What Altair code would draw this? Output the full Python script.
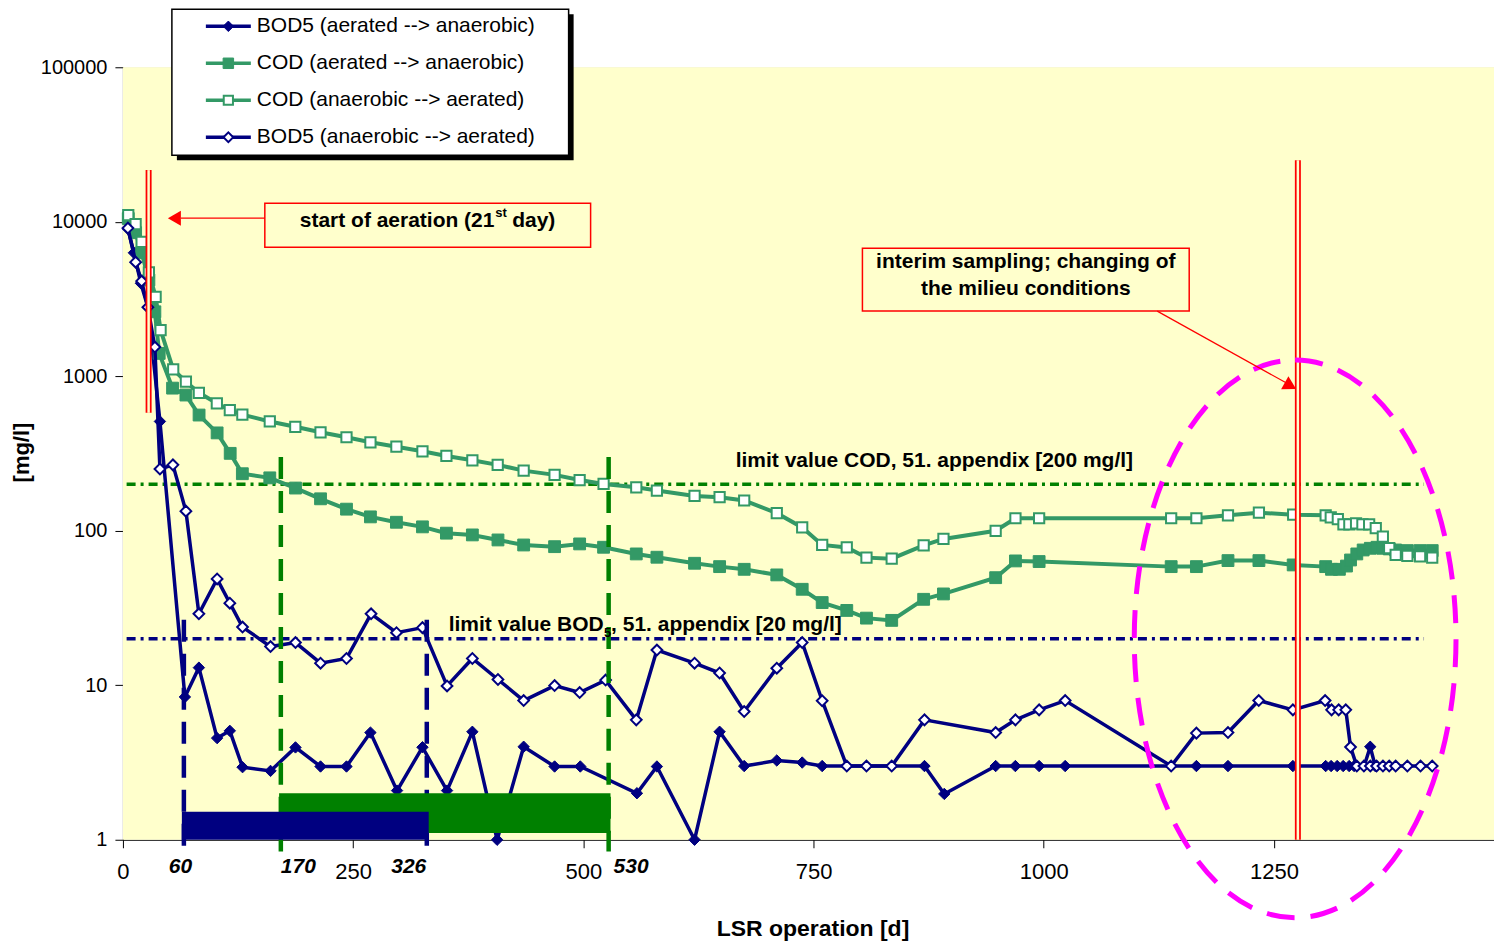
import altair as alt
import pandas as pd

# ---------------- colours / fonts ----------------
NAVY = "#000080"
SEA = "#339966"
GREEN = "#008000"
RED = "#FF0000"
MAGENTA = "#FF00FF"
BG = "#FFFFCC"
FONT = "Liberation Sans"

# ---------------- data (days of LSR operation, mg/l) ----------------
bod_aer_days = [5.4, 11.9, 19.5, 27.1, 40.2, 67.3, 82.5, 102.3, 116.1, 129.9,
                160.3, 187.4, 214.6, 242.8, 268.8, 297.7, 325.3, 352.0, 379.5, 406.4,
                435.2, 468.8, 496.7, 558.2, 579.9, 620.8, 648.0, 674.7, 710.1, 737.7,
                759.4, 870.5, 892.0, 947.8, 969.2, 995.0, 1023.3, 1165.8, 1200.1, 1270.6,
                1306.2, 1312.1, 1318.7, 1325.2, 1331.7, 1337.1, 1348.0, 1354.6, 1360.0]
bod_aer_vals = [9000, 6300, 4000, 2800, 510, 8.4, 13.0, 4.55, 5.07, 2.95,
                2.79, 3.96, 2.98, 2.98, 4.94, 2.08, 3.97, 2.08, 5.0, 1.0,
                4.0, 2.98, 2.98, 2.0, 2.98, 1.0, 5.0, 3.0, 3.26, 3.16,
                3.0, 3.0, 1.98, 3.0, 3.0, 3.0, 3.0, 3.0, 3.0, 3.0,
                3, 3, 3, 3, 3, 3, 3, 4.0, 3.0]

cod_aer_days = [5.8, 13.8, 20.3, 28.2, 34.7, 39.4, 53.9, 68.4, 82.7, 102.3,
                116.5, 129.7, 159.5, 187.4, 214.6, 242.8, 268.8, 297.0, 325.3, 351.3,
                379.5, 407.3, 435.2, 468.8, 496.0, 522.0, 557.5, 579.9, 620.8, 648.0,
                674.7, 710.1, 737.7, 759.4, 786.1, 807.5, 834.9, 869.6, 891.1, 947.8,
                969.3, 995.0, 1138.4, 1165.8, 1200.1, 1233.7, 1270.9, 1306.2, 1312.5, 1321.1,
                1328.8, 1333.2, 1340.0, 1346.9, 1354.7, 1362.0, 1368.3, 1375.2, 1382.2, 1394.9,
                1408.7, 1421.9]
cod_aer_vals = [10500, 8500, 6300, 4200, 2614, 1406, 838, 756, 561, 430,
                317, 234, 220, 189, 161, 138, 123, 113.5, 106, 96.5,
                94, 87.2, 80.9, 78.9, 82.2, 78.2, 70.8, 67.4, 61.6, 58.6,
                56.3, 51.8, 41.8, 34.3, 30.5, 27.2, 26.3, 36, 39, 49.7,
                63.8, 63.2, 58.6, 58.6, 64.1, 64.1, 60.1, 58.6, 56.3, 56.3,
                59.1, 64.7, 70.8, 75.1, 77, 78.2, 77, 76.3, 75.1, 74.4,
                74.4, 74.4]

cod_ana_days = [5.8, 13.8, 20.3, 28.2, 35.5, 40.9, 54.6, 68.4, 82.5, 102.0,
                116.1, 129.7, 159.5, 187.2, 214.6, 242.8, 268.8, 297.0, 325.3, 351.3,
                379.5, 407.0, 435.2, 468.8, 496.0, 522.0, 557.5, 579.9, 620.8, 648.0,
                674.7, 710.1, 737.7, 759.4, 786.1, 807.5, 834.9, 869.6, 891.1, 947.8,
                969.3, 995.0, 1138.4, 1165.8, 1200.1, 1233.7, 1270.9, 1306.2, 1311.7, 1319.4,
                1325.5, 1331.9, 1339.2, 1346.1, 1353.4, 1360.6, 1368.3, 1375.2, 1382.2, 1394.9,
                1408.7, 1421.9]
cod_ana_vals = [11040, 9650, 7410, 4700, 3270, 1990, 1108, 922, 782, 668,
                604, 565, 510, 471, 434, 403, 374, 350, 327, 305,
                286, 267, 245, 230, 213, 201, 191, 182, 168, 165,
                157, 130, 105, 81, 78, 67, 66, 80.5, 88.5, 100,
                120.5, 120.5, 120.5, 120.5, 126, 131, 127, 126, 122, 119,
                110, 110, 111.6, 110, 110, 104, 91.6, 77.1, 69.7, 68.7,
                68.2, 67]

bod_ana_days = [5.4, 13.8, 20.3, 27.1, 34.7, 40.2, 54.3, 68.4, 82.5, 102.3,
                116.1, 129.9, 160.3, 187.4, 214.6, 242.8, 269.5, 297.1, 325.3, 352.0,
                379.5, 407.3, 435.2, 468.8, 496.0, 524.2, 557.5, 579.9, 620.8, 648.0,
                674.7, 710.1, 737.7, 759.4, 786.1, 807.5, 834.9, 870.5, 947.8, 969.3,
                995.0, 1023.3, 1138.4, 1165.8, 1200.1, 1233.5, 1270.6, 1305.6, 1312.6, 1320.3,
                1328.0, 1333.2, 1340.0, 1347.7, 1354.7, 1361.5, 1368.4, 1375.2, 1382.2, 1394.9,
                1409.2, 1421.9]
bod_ana_vals = [9100, 5480, 4130, 2800, 1545, 251, 267, 134, 29, 48.8,
                34, 23.8, 17.8, 18.9, 13.9, 14.9, 29, 21.9, 23.6, 9.9,
                14.9, 10.9, 7.96, 9.95, 8.97, 10.8, 5.97, 16.9, 13.9, 12.0,
                6.76, 12.9, 18.9, 7.94, 3.0, 3.0, 3.0, 5.97, 4.94, 5.97,
                6.93, 7.96, 3.0, 4.9, 4.94, 7.96, 6.93, 7.96, 6.93, 6.93,
                6.93, 3.98, 3.0, 3.0, 3.0, 3.0, 3.0, 3.0, 3.0, 3.0,
                3.0, 3.0]

series_names = ["BOD5 (aerated --> anaerobic)", "COD (aerated --> anaerobic)",
                "COD (anaerobic --> aerated)", "BOD5 (anaerobic --> aerated)"]

limit_vals = [200, 20]
limit_start = [4, 4]
limit_end = [1413, 1413]
limit_texts = ["limit value COD, 51. appendix [200 mg/l]"]

phase_days = [66.2, 171.5, 330.0, 527.5]
phase_tops = [26.5, 300, 26.5, 300]
phase_bottom = [0.84, 0.84, 0.84, 0.84]
phase_labels = ["60", "170", "326", "530"]

bar_start = [169.6, 64.0]
bar_end = [529.5, 332.1]
bar_low = [1.105, 1.0]
bar_high = [2.0, 1.52]

red_days = [27.9, 1276.0]
red_tops = [21600, 25000]
red_bottoms = [580, 1]

x_ticks = [0, 250, 500, 750, 1000, 1250]
y_ticks = [1, 10, 100, 1000, 10000, 100000]

# ---------------- layout ----------------
W, H = 1372, 773
XMAX = 1489

xs = alt.Scale(domain=[0, XMAX], nice=False, zero=False)
ys = alt.Scale(type="log", domain=[1, 100000], nice=False)

xaxis = alt.Axis(values=x_ticks, format="d", title="LSR operation [d]", grid=False,
                 domainColor="black", domainWidth=1, tickColor="black", tickSize=8,
                 labelFont=FONT, labelFontSize=22, labelColor="black", labelPadding=14,
                 labelFlush=False, titleFont=FONT, titleFontSize=23, titleFontWeight="bold",
                 titleColor="black", titleX=690, titleY=89, titleAlign="center",
                 titleBaseline="middle")
yaxis = alt.Axis(values=y_ticks, format="d", title="[mg/l]", grid=False,
                 domainColor="black", domainWidth=1, tickColor="black", tickSize=8,
                 labelFont=FONT, labelFontSize=20, labelColor="black", labelPadding=8,
                 titleFont=FONT, titleFontSize=22, titleFontWeight="bold", titleColor="black",
                 titleX=-101, titleY=385, titleAngle=270, titleAlign="center",
                 titleBaseline="middle")


def X(f):
    return alt.X(field=f, type="quantitative", scale=xs, axis=xaxis)


def Y(f):
    return alt.Y(field=f, type="quantitative", scale=ys, axis=yaxis)


PX = alt.X(field="px", type="quantitative", scale=None, axis=None)
PY = alt.Y(field="py", type="quantitative", scale=None, axis=None)

layers = []

# plot background
bg_df = pd.DataFrame({"px": [0], "px2": [W + 10], "py": [0], "py2": [H]})
layers.append(alt.Chart(bg_df).mark_rect(color=BG).encode(
    x=PX, x2=alt.X2(field="px2"), y=PY, y2=alt.Y2(field="py2")))

# limit lines
lim_df = pd.DataFrame({"x0": limit_start, "x1": limit_end, "v": limit_vals,
                       "c": [GREEN, NAVY]})
layers.append(alt.Chart(lim_df).mark_rule(strokeWidth=3.5, strokeDash=[9, 5, 3, 5]).encode(
    x=X("x0"), x2=alt.X2(field="x1"), y=Y("v"),
    color=alt.Color(field="c", type="nominal", scale=None)))


def series(days, vals, color, lw, shape, fill, stroke, sw, size):
    df = pd.DataFrame({"day": days, "val": vals})
    df["i"] = range(len(df))
    base = alt.Chart(df)
    ln = base.mark_line(color=color, strokeWidth=lw).encode(
        x=X("day"), y=Y("val"), order=alt.Order(field="i", type="quantitative"))
    pt = base.mark_point(shape=shape, filled=True, fill=fill, stroke=stroke,
                         strokeWidth=sw, size=size, opacity=1).encode(x=X("day"), y=Y("val"))
    return [ln, pt]


layers += series(bod_aer_days, bod_aer_vals, NAVY, 3.5, "diamond", NAVY, NAVY, 1, 130)
layers += series(cod_aer_days, cod_aer_vals, SEA, 4, "square", SEA, SEA, 1, 140)
layers += series(cod_ana_days, cod_ana_vals, SEA, 4, "square", "white", SEA, 2, 105)
layers += series(bod_ana_days, bod_ana_vals, NAVY, 3.5, "diamond", "white", NAVY, 2, 115)

# vertical phase markers
ph_df = pd.DataFrame({"d": phase_days, "t": phase_tops, "b": phase_bottom,
                      "c": [NAVY, GREEN, NAVY, GREEN]})
layers.append(alt.Chart(ph_df).mark_rule(strokeWidth=4.5, strokeDash=[22, 12]).encode(
    x=X("d"), y=Y("t"), y2=alt.Y2(field="b"),
    color=alt.Color(field="c", type="nominal", scale=None)))

# phase bars
bar_df = pd.DataFrame({"x0": bar_start, "x1": bar_end, "lo": bar_low, "hi": bar_high,
                       "c": [GREEN, NAVY]})
layers.append(alt.Chart(bar_df).mark_rect().encode(
    x=X("x0"), x2=alt.X2(field="x1"), y=Y("hi"), y2=alt.Y2(field="lo"),
    color=alt.Color(field="c", type="nominal", scale=None)))

# red double lines
red_df = pd.DataFrame({"d": red_days, "t": red_tops, "b": red_bottoms})
layers.append(alt.Chart(red_df).mark_rule(color=RED, strokeWidth=6).encode(
    x=X("d"), y=Y("t"), y2=alt.Y2(field="b")))
layers.append(alt.Chart(red_df).mark_rule(color=BG, strokeWidth=2.5).encode(
    x=X("d"), y=Y("t"), y2=alt.Y2(field="b")))

# magenta dashed ellipse (custom bezier symbol)
ELLIPSE = ("M 0 -1 C 0.3187 -1 0.577 -0.5523 0.577 0 C 0.577 0.5523 0.3187 1 0 1 "
           "C -0.3187 1 -0.577 0.5523 -0.577 0 C -0.577 -0.5523 -0.3187 -1 0 -1 Z")
ell_df = pd.DataFrame({"px": [1173], "py": [572]})
layers.append(alt.Chart(ell_df).mark_point(shape=ELLIPSE, size=558 ** 2, filled=False,
                                           stroke=MAGENTA, strokeWidth=5,
                                           strokeDash=[28, 16], opacity=1).encode(x=PX, y=PY))

# day labels under the axis
dl_df = pd.DataFrame({"px": [57.5, 175.5, 286, 508.5], "py": [800] * 4, "t": phase_labels})
layers.append(alt.Chart(dl_df).mark_text(font=FONT, fontSize=21, fontWeight="bold",
                                         fontStyle="italic", color="black",
                                         baseline="middle", align="center").encode(
    x=PX, y=PY, text=alt.Text(field="t", type="nominal")))


# limit value labels
def ptext(px, py, txt, size=21, align="left", weight="bold"):
    df = pd.DataFrame({"px": [px], "py": [py], "t": [txt]})
    return alt.Chart(df).mark_text(font=FONT, fontSize=size, fontWeight=weight, color="black",
                                   align=align, baseline="middle").encode(
        x=PX, y=PY, text=alt.Text(field="t", type="nominal"))


layers.append(ptext(812, 394, limit_texts[0], align="center"))
layers.append(ptext(326, 558, "limit value BOD"))
layers.append(ptext(481.5, 566, "5", size=13))
layers.append(ptext(488.5, 558, ", 51. appendix [20 mg/l]"))

# annotation boxes
box_df = pd.DataFrame({"px": [142, 740], "px2": [468, 1067], "py": [136, 181], "py2": [180, 244]})
layers.append(alt.Chart(box_df).mark_rect(fill=BG, stroke=RED, strokeWidth=1.5).encode(
    x=PX, x2=alt.X2(field="px2"), y=PY, y2=alt.Y2(field="py2")))
layers.append(ptext(177, 154, "start of aeration (21"))
layers.append(ptext(372.5, 146, "st", size=13))
layers.append(ptext(389.5, 154, "day)"))
layers.append(ptext(903.5, 195, "interim sampling; changing of", align="center"))
layers.append(ptext(903.5, 222, "the milieu conditions", align="center"))

# arrows
arr_df = pd.DataFrame({"px": [142, 1035], "px2": [58, 1168], "py": [151, 244], "py2": [151, 318]})
layers.append(alt.Chart(arr_df).mark_rule(color=RED, strokeWidth=1.2).encode(
    x=PX, x2=alt.X2(field="px2"), y=PY, y2=alt.Y2(field="py2")))
ah_df = pd.DataFrame({"px": [51.5, 1168.3], "py": [151, 318.9],
                      "s": ["triangle-left", "triangle-right"], "a": [0, 29]})
layers.append(alt.Chart(ah_df).mark_point(filled=True, color=RED, size=225, opacity=1).encode(
    x=PX, y=PY, shape=alt.Shape(field="s", type="nominal", scale=None),
    angle=alt.Angle(field="a", type="quantitative", scale=None)))

# legend
lx0, lx1, ly0, ly1 = 49, 446, -58, 88
sh_df = pd.DataFrame({"px": [lx0 + 5], "px2": [lx1 + 5], "py": [ly0 + 5], "py2": [ly1 + 5]})
layers.append(alt.Chart(sh_df).mark_rect(color="black").encode(
    x=PX, x2=alt.X2(field="px2"), y=PY, y2=alt.Y2(field="py2")))
lb_df = pd.DataFrame({"px": [lx0], "px2": [lx1], "py": [ly0], "py2": [ly1]})
layers.append(alt.Chart(lb_df).mark_rect(fill="white", stroke="black", strokeWidth=1.5).encode(
    x=PX, x2=alt.X2(field="px2"), y=PY, y2=alt.Y2(field="py2")))

leg_df = pd.DataFrame({
    "px": [83] * 4, "px2": [128] * 4, "mx": [105.5] * 4, "tx": [134] * 4,
    "py": [-41, -4, 33, 70],
    "c": [NAVY, SEA, SEA, NAVY],
    "s": ["diamond", "square", "square", "diamond"],
    "f": [NAVY, SEA, "white", "white"],
    "sw": [1, 1, 2, 2],
    "sz": [110, 110, 85, 95],
    "t": series_names,
})
layers.append(alt.Chart(leg_df).mark_rule(strokeWidth=3.5).encode(
    x=PX, x2=alt.X2(field="px2"), y=PY,
    color=alt.Color(field="c", type="nominal", scale=None)))
layers.append(alt.Chart(leg_df).mark_point(filled=True, opacity=1).encode(
    x=alt.X(field="mx", type="quantitative", scale=None, axis=None), y=PY,
    shape=alt.Shape(field="s", type="nominal", scale=None),
    fill=alt.Fill(field="f", type="nominal", scale=None),
    stroke=alt.Stroke(field="c", type="nominal", scale=None),
    strokeWidth=alt.StrokeWidth(field="sw", type="quantitative", scale=None),
    size=alt.Size(field="sz", type="quantitative", scale=None)))
layers.append(alt.Chart(leg_df).mark_text(font=FONT, fontSize=21, color="black",
                                          align="left", baseline="middle").encode(
    x=alt.X(field="tx", type="quantitative", scale=None, axis=None), y=PY,
    text=alt.Text(field="t", type="nominal")))

chart = alt.layer(*layers).properties(
    width=W, height=H,
    autosize=alt.AutoSizeParams(type="none"),
    padding={"left": 115, "top": 59, "right": 0, "bottom": 106},
).configure_view(strokeWidth=0).configure(font=FONT)

chart.save("out.html", embed_options={"renderer": "svg", "actions": False})
